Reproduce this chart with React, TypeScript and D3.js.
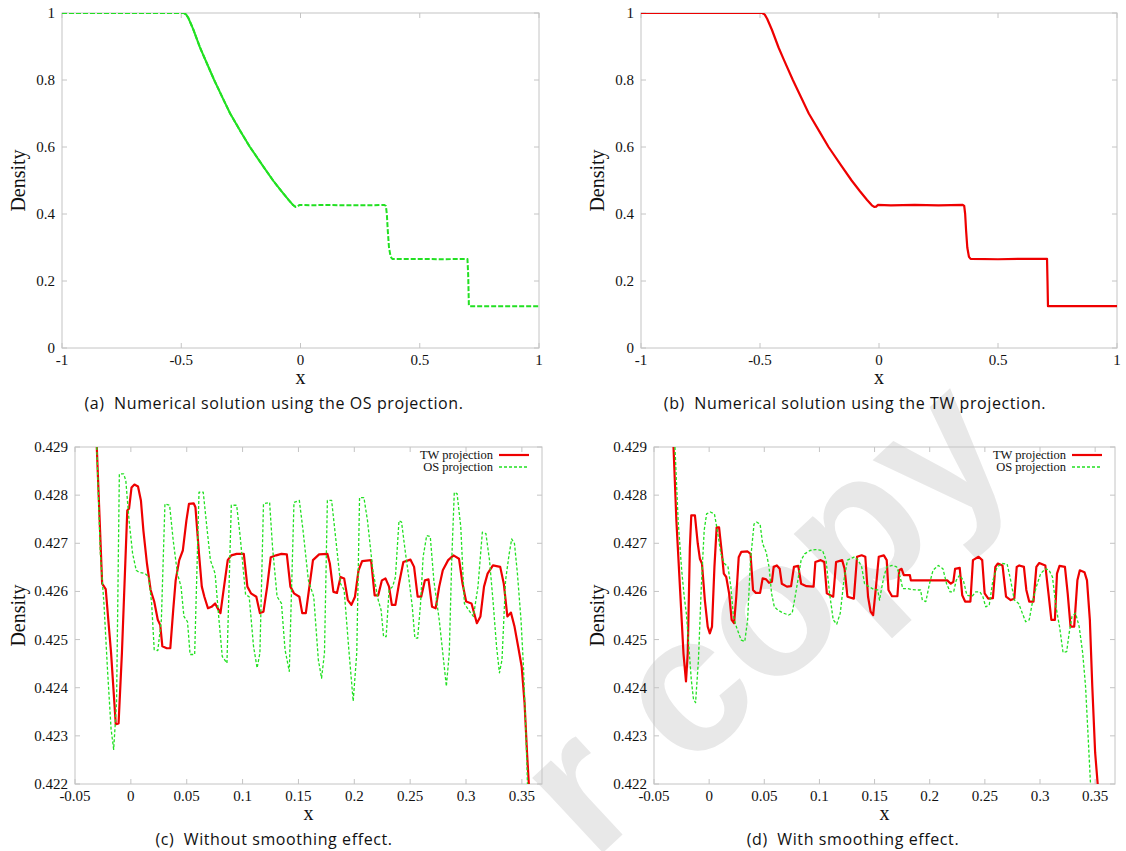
import React from 'react';
import * as d3 from 'd3';

type Pt = [number, number];

// tick values and labels
const xTicksFull = [-1, -0.5, 0, 0.5, 1];
const xLabelsFull = ['-1', '-0.5', '0', '0.5', '1'];
const yTicksFull = [0, 0.2, 0.4, 0.6, 0.8, 1];
const yLabelsFull = ['0', '0.2', '0.4', '0.6', '0.8', '1'];

const xTicksZoom = [-0.05, 0, 0.05, 0.1, 0.15, 0.2, 0.25, 0.3, 0.35];
const xLabelsZoom = ['-0.05', '0', '0.05', '0.1', '0.15', '0.2', '0.25', '0.3', '0.35'];
const yTicksZoom = [0.422, 0.423, 0.424, 0.425, 0.426, 0.427, 0.428, 0.429];
const yLabelsZoom = ['0.422', '0.423', '0.424', '0.425', '0.426', '0.427', '0.428', '0.429'];

// (a) OS projection, whole domain
const osFull: Pt[] = [
  [-1, 1], [-0.49, 1], [-0.48, 0.996], [-0.47, 0.985], [-0.45, 0.952], [-0.422, 0.898],
  [-0.4, 0.862], [-0.362, 0.8], [-0.33, 0.752], [-0.295, 0.7], [-0.25, 0.645], [-0.212, 0.6],
  [-0.16, 0.546], [-0.115, 0.5], [-0.08, 0.468], [-0.05, 0.442], [-0.03, 0.426], [-0.02, 0.421],
  [-0.012, 0.422], [-0.005, 0.427], [0.05, 0.426], [0.1, 0.427], [0.2, 0.426], [0.3, 0.426],
  [0.352, 0.427], [0.358, 0.424], [0.362, 0.4], [0.366, 0.35], [0.371, 0.3], [0.378, 0.272],
  [0.385, 0.266], [0.5, 0.266], [0.6, 0.265], [0.7, 0.266], [0.703, 0.22], [0.706, 0.126],
  [0.71, 0.125], [1, 0.125],
];

// (b) TW projection, whole domain
const twFull: Pt[] = [
  [-1, 1], [-0.49, 1], [-0.48, 0.995], [-0.47, 0.983], [-0.45, 0.95], [-0.422, 0.897],
  [-0.4, 0.861], [-0.362, 0.8], [-0.33, 0.752], [-0.295, 0.7], [-0.25, 0.646], [-0.212, 0.6],
  [-0.16, 0.546], [-0.115, 0.5], [-0.08, 0.468], [-0.05, 0.442], [-0.03, 0.426], [-0.02, 0.421],
  [-0.012, 0.422], [-0.005, 0.427], [0.05, 0.426], [0.15, 0.427], [0.25, 0.426], [0.352, 0.427],
  [0.358, 0.424], [0.362, 0.4], [0.366, 0.35], [0.371, 0.3], [0.378, 0.272], [0.385, 0.266],
  [0.5, 0.265], [0.6, 0.266], [0.706, 0.266], [0.708, 0.2], [0.71, 0.125], [1, 0.125],
];

// (c) without smoothing
const twRough: Pt[] = [
  [-0.0305, 0.429], [-0.0257, 0.42616], [-0.0225, 0.42605], [-0.0177, 0.42472], [-0.0135, 0.42324],
  [-0.011, 0.42326], [-0.008, 0.42472], [-0.0032, 0.42768], [-0.0016, 0.42772], [0.0006, 0.42816],
  [0.0032, 0.42822], [0.0064, 0.42818], [0.009, 0.42789], [0.0112, 0.42727], [0.0144, 0.42658],
  [0.0177, 0.42603], [0.0209, 0.42579], [0.0241, 0.42541], [0.0263, 0.4253], [0.0282, 0.42486],
  [0.0321, 0.42482], [0.0353, 0.42482], [0.0379, 0.42561], [0.0401, 0.42623], [0.0433, 0.42665],
  [0.0465, 0.42685], [0.0497, 0.42747], [0.052, 0.42782], [0.0562, 0.42783], [0.0578, 0.42775],
  [0.061, 0.42678], [0.0635, 0.4261], [0.0658, 0.42589], [0.069, 0.42565], [0.0722, 0.42568],
  [0.0754, 0.42575], [0.077, 0.42568], [0.0802, 0.42555], [0.0834, 0.4261], [0.0867, 0.42665],
  [0.0899, 0.42675], [0.0947, 0.42678], [0.1011, 0.42678], [0.1043, 0.4261], [0.1075, 0.42596],
  [0.1123, 0.42589], [0.1155, 0.42555], [0.1187, 0.42558], [0.122, 0.4261], [0.1252, 0.42671],
  [0.13, 0.42675], [0.1348, 0.42678], [0.1396, 0.42677], [0.1428, 0.4261], [0.146, 0.42596],
  [0.1508, 0.42589], [0.1534, 0.42555], [0.1566, 0.42555], [0.1598, 0.4261], [0.163, 0.42665],
  [0.1685, 0.42677], [0.1759, 0.42678], [0.1781, 0.42658], [0.1813, 0.42599], [0.1845, 0.42597],
  [0.1877, 0.4263], [0.1909, 0.42627], [0.1942, 0.42582], [0.1974, 0.42572], [0.2006, 0.42589],
  [0.2038, 0.42644], [0.207, 0.42663], [0.215, 0.42665], [0.2182, 0.42592], [0.2214, 0.42592],
  [0.2247, 0.42623], [0.2279, 0.42627], [0.2311, 0.4261], [0.2336, 0.42572], [0.2368, 0.42572],
  [0.24, 0.42616], [0.2439, 0.42661], [0.2503, 0.42666], [0.2535, 0.42651], [0.2567, 0.42589],
  [0.2599, 0.42589], [0.2632, 0.42623], [0.2664, 0.42625], [0.2696, 0.42568], [0.2728, 0.42565],
  [0.276, 0.4261], [0.2792, 0.42644], [0.284, 0.42665], [0.2888, 0.42675], [0.2937, 0.42668],
  [0.2969, 0.42616], [0.3001, 0.42579], [0.3049, 0.42575], [0.3097, 0.42534], [0.3129, 0.42548],
  [0.3161, 0.4261], [0.3193, 0.42637], [0.3241, 0.42654], [0.3306, 0.42651], [0.3338, 0.42616],
  [0.337, 0.42548], [0.3402, 0.42556], [0.3434, 0.42527], [0.3466, 0.42486], [0.3498, 0.42444],
  [0.3524, 0.42368], [0.3546, 0.42265], [0.3562, 0.422],
];

const osRough: Pt[] = [
  [-0.0305, 0.429], [-0.0273, 0.42678], [-0.0241, 0.42575], [-0.0209, 0.42437], [-0.0177, 0.42314],
  [-0.0154, 0.42272], [-0.0128, 0.42369], [-0.0103, 0.42844], [-0.0064, 0.42844], [-0.0045, 0.4283],
  [-0.0016, 0.42747], [0.0016, 0.42678], [0.0048, 0.42644], [0.0071, 0.4264], [0.0128, 0.42637],
  [0.016, 0.4263], [0.0186, 0.42575], [0.0209, 0.42479], [0.0241, 0.42477], [0.0273, 0.42541],
  [0.0305, 0.42782], [0.0347, 0.42779], [0.0379, 0.42706], [0.0417, 0.42637], [0.0449, 0.4261],
  [0.0475, 0.42548], [0.0507, 0.42537], [0.053, 0.42469], [0.0571, 0.42469], [0.061, 0.42806],
  [0.0648, 0.42806], [0.068, 0.42734], [0.0712, 0.42665], [0.0754, 0.42637], [0.0786, 0.42548],
  [0.0818, 0.42465], [0.086, 0.42451], [0.0899, 0.42779], [0.0947, 0.42779], [0.0979, 0.42713],
  [0.1027, 0.42593], [0.1059, 0.42589], [0.1098, 0.42486], [0.113, 0.42441], [0.1155, 0.42472],
  [0.1187, 0.42782], [0.1242, 0.42785], [0.1268, 0.42692], [0.1309, 0.42589], [0.1348, 0.42575],
  [0.138, 0.42479], [0.1418, 0.42434], [0.146, 0.42785], [0.1508, 0.42789], [0.1541, 0.42727],
  [0.1589, 0.42623], [0.1637, 0.42589], [0.1678, 0.42458], [0.1707, 0.4242], [0.1733, 0.42472],
  [0.1759, 0.42789], [0.1797, 0.42789], [0.1829, 0.4272], [0.1877, 0.42616], [0.1909, 0.42603],
  [0.1951, 0.42479], [0.199, 0.42372], [0.2022, 0.42472], [0.2047, 0.42795], [0.2086, 0.42795],
  [0.2118, 0.42747], [0.2166, 0.42644], [0.2214, 0.42582], [0.224, 0.42561], [0.2262, 0.42506],
  [0.2285, 0.42506], [0.2311, 0.42603], [0.2343, 0.4261], [0.2368, 0.4263], [0.24, 0.42747],
  [0.2423, 0.42744], [0.2455, 0.42685], [0.2487, 0.4263], [0.2519, 0.42568], [0.2542, 0.42503],
  [0.2567, 0.42503], [0.2593, 0.42575], [0.2616, 0.42672], [0.2648, 0.42716], [0.268, 0.42714],
  [0.2712, 0.42623], [0.276, 0.42541], [0.2792, 0.42472], [0.2824, 0.42403], [0.285, 0.42472],
  [0.2872, 0.42665], [0.2895, 0.42806], [0.292, 0.42803], [0.2953, 0.42734], [0.2985, 0.42575],
  [0.3024, 0.42561], [0.3066, 0.42548], [0.3107, 0.4261], [0.3146, 0.42723], [0.3178, 0.4272],
  [0.321, 0.42665], [0.3241, 0.42582], [0.3273, 0.42486], [0.3299, 0.42431], [0.3322, 0.42458],
  [0.3354, 0.42623], [0.3386, 0.42678], [0.3409, 0.42709], [0.3434, 0.42699], [0.346, 0.42637],
  [0.3492, 0.42541], [0.3514, 0.42444], [0.3537, 0.423], [0.355, 0.422],
];

// (d) with smoothing
const twSmooth: Pt[] = [
  [-0.0323, 0.429], [-0.0297, 0.42747], [-0.0265, 0.4261], [-0.0233, 0.42472], [-0.021, 0.42413],
  [-0.0194, 0.42472], [-0.0175, 0.4269], [-0.0162, 0.42758], [-0.0129, 0.42758], [-0.0103, 0.42699],
  [-0.0084, 0.42668], [-0.0065, 0.42658], [-0.0039, 0.42582], [-0.0013, 0.42527], [0.0006, 0.42513],
  [0.0026, 0.42527], [0.0048, 0.42651], [0.0068, 0.42733], [0.009, 0.42733], [0.0116, 0.42678],
  [0.0133, 0.42637], [0.0155, 0.4263], [0.0181, 0.42596], [0.0204, 0.42541], [0.0226, 0.42534],
  [0.0246, 0.42589], [0.0268, 0.42671], [0.0291, 0.42682], [0.0349, 0.42683], [0.0375, 0.42678],
  [0.0398, 0.42603], [0.0423, 0.42597], [0.0462, 0.42597], [0.0485, 0.42627], [0.0517, 0.42625],
  [0.0543, 0.42618], [0.0569, 0.4262], [0.0585, 0.42651], [0.0614, 0.42654], [0.064, 0.42647],
  [0.0659, 0.42616], [0.0705, 0.4261], [0.0743, 0.42611], [0.0769, 0.42651], [0.0808, 0.42653],
  [0.0834, 0.42616], [0.0882, 0.42611], [0.0947, 0.4261], [0.0963, 0.42661], [0.1012, 0.42665],
  [0.1044, 0.42661], [0.1067, 0.42596], [0.1125, 0.42589], [0.1151, 0.42661], [0.1206, 0.42665],
  [0.1228, 0.42647], [0.1254, 0.42589], [0.1312, 0.42585], [0.1341, 0.42672], [0.1383, 0.42675],
  [0.1416, 0.42672], [0.1441, 0.42589], [0.1464, 0.42558], [0.1487, 0.42551], [0.1513, 0.4261],
  [0.1538, 0.42672], [0.1584, 0.42675], [0.161, 0.42665], [0.1626, 0.42603], [0.1658, 0.4259],
  [0.1707, 0.4259], [0.1723, 0.42644], [0.1745, 0.42647], [0.1765, 0.42634], [0.182, 0.42634],
  [0.1829, 0.42623], [0.2159, 0.42623], [0.2191, 0.42616], [0.2214, 0.4262], [0.223, 0.42647],
  [0.2272, 0.42649], [0.2295, 0.42592], [0.2321, 0.42579], [0.2369, 0.42579], [0.2392, 0.42665],
  [0.2443, 0.42672], [0.2476, 0.42665], [0.2498, 0.42596], [0.2531, 0.42585], [0.2573, 0.42586],
  [0.2595, 0.42651], [0.2618, 0.42658], [0.266, 0.42654], [0.2692, 0.42589], [0.2734, 0.42582],
  [0.2767, 0.42585], [0.2789, 0.42651], [0.2812, 0.42654], [0.2854, 0.42651], [0.2876, 0.42603],
  [0.2902, 0.42579], [0.2941, 0.42579], [0.2967, 0.42651], [0.2993, 0.42659], [0.3048, 0.42654],
  [0.308, 0.42589], [0.3103, 0.42541], [0.3135, 0.42541], [0.3154, 0.42637], [0.3177, 0.42653],
  [0.3226, 0.42651], [0.3251, 0.42596], [0.3277, 0.42527], [0.331, 0.42527], [0.3339, 0.42623],
  [0.3361, 0.42644], [0.3403, 0.4264], [0.3426, 0.42623], [0.3452, 0.42541], [0.3474, 0.42403],
  [0.35, 0.42265], [0.3523, 0.422],
];

const osSmooth: Pt[] = [
  [-0.031, 0.429], [-0.0281, 0.42747], [-0.0249, 0.42644], [-0.0226, 0.42589], [-0.0207, 0.42555],
  [-0.0184, 0.42486], [-0.0162, 0.42417], [-0.0142, 0.42376], [-0.0123, 0.42369], [-0.0097, 0.42458],
  [-0.0071, 0.4261], [-0.0045, 0.42727], [-0.0023, 0.42761], [0.001, 0.42765], [0.0048, 0.42761],
  [0.0074, 0.42727], [0.0107, 0.42678], [0.0139, 0.42658], [0.0171, 0.42651], [0.0197, 0.4261],
  [0.022, 0.42548], [0.0246, 0.42527], [0.0268, 0.42513], [0.0291, 0.42499], [0.0323, 0.42496],
  [0.0349, 0.42541], [0.0375, 0.42665], [0.0407, 0.4274], [0.043, 0.42744], [0.0462, 0.4274],
  [0.0485, 0.42699], [0.0517, 0.42682], [0.0543, 0.42651], [0.0566, 0.42596], [0.0591, 0.42568],
  [0.0624, 0.42561], [0.0672, 0.42555], [0.0721, 0.42551], [0.0753, 0.42555], [0.0785, 0.42596],
  [0.0834, 0.42665], [0.0866, 0.42678], [0.0915, 0.42685], [0.0963, 0.42687], [0.1028, 0.42685],
  [0.106, 0.42665], [0.1092, 0.42596], [0.1125, 0.42541], [0.1157, 0.42532], [0.1189, 0.42555],
  [0.1222, 0.42623], [0.1254, 0.42665], [0.1319, 0.42672], [0.1351, 0.42665], [0.1383, 0.42651],
  [0.1409, 0.42616], [0.1448, 0.4261], [0.1496, 0.42604], [0.1529, 0.42603], [0.1545, 0.42582],
  [0.1561, 0.42603], [0.1584, 0.4263], [0.161, 0.42651], [0.1658, 0.42654], [0.17, 0.42651],
  [0.1732, 0.4263], [0.1755, 0.42606], [0.1803, 0.42606], [0.1836, 0.42604], [0.1884, 0.42603],
  [0.1917, 0.42603], [0.1933, 0.42582], [0.1965, 0.42579], [0.1998, 0.42616], [0.203, 0.42644],
  [0.2078, 0.42654], [0.212, 0.42647], [0.2153, 0.42616], [0.2185, 0.42599], [0.2217, 0.42599],
  [0.224, 0.42623], [0.2272, 0.42634], [0.2305, 0.42623], [0.2337, 0.42592], [0.2385, 0.4259],
  [0.2417, 0.42599], [0.2456, 0.42599], [0.2482, 0.42589], [0.2508, 0.42568], [0.254, 0.42572],
  [0.2573, 0.42623], [0.2611, 0.42651], [0.266, 0.42658], [0.2702, 0.42657], [0.2734, 0.42623],
  [0.2767, 0.42582], [0.2806, 0.42575], [0.2838, 0.42556], [0.287, 0.42537], [0.2902, 0.42541],
  [0.2935, 0.42582], [0.2967, 0.4261], [0.3006, 0.42637], [0.3048, 0.42647], [0.308, 0.42645],
  [0.3113, 0.4263], [0.3145, 0.42568], [0.3177, 0.42527], [0.3209, 0.42473], [0.3242, 0.42475],
  [0.3264, 0.42513], [0.329, 0.42548], [0.3322, 0.42555], [0.3355, 0.42527], [0.3387, 0.42472],
  [0.3413, 0.42403], [0.3436, 0.423], [0.3458, 0.422],
];

const RED = '#ee0000';
const GREEN = '#22e022';
const FRAME = '#c4c4c4';
const SERIF = "'Liberation Serif', 'DejaVu Serif', serif";
const SANS = "'Open Sans', 'DejaVu Sans', sans-serif";

type Series = {
  data: Pt[];
  color: string;
  width: number;
  dash?: string;
  solidRange?: [number, number];
  label?: string;
};

type PanelProps = {
  id: string;
  left: number;
  right: number;
  top: number;
  bottom: number;
  xDomain: [number, number];
  yDomain: [number, number];
  xTicks: number[];
  xLabels: string[];
  yTicks: number[];
  yLabels: string[];
  series: Series[];
  caption: string;
  captionX: number;
  ylabX: number;
  legend?: boolean;
};

const Panel: React.FC<PanelProps> = (p) => {
  const x = d3.scaleLinear().domain(p.xDomain).range([p.left, p.right]);
  const y = d3.scaleLinear().domain(p.yDomain).range([p.bottom, p.top]);
  const line = d3
    .line<Pt>()
    .x((d) => x(d[0]))
    .y((d) => y(d[1]));
  const tl = 5;
  const cx = (p.left + p.right) / 2;
  const cy = (p.top + p.bottom) / 2;
  return (
    <g>
      <defs>
        <clipPath id={`clip-${p.id}`}>
          <rect x={p.left} y={p.top} width={p.right - p.left} height={p.bottom - p.top} />
        </clipPath>
      </defs>
      <rect
        x={p.left}
        y={p.top}
        width={p.right - p.left}
        height={p.bottom - p.top}
        fill="none"
        stroke={FRAME}
        strokeWidth={1}
      />
      {p.xTicks.map((t, i) => (
        <g key={`xt${i}`}>
          <line x1={x(t)} x2={x(t)} y1={p.bottom} y2={p.bottom - tl} stroke={FRAME} />
          <line x1={x(t)} x2={x(t)} y1={p.top} y2={p.top + tl} stroke={FRAME} />
          <text
            x={x(t)}
            y={p.bottom + 17}
            textAnchor="middle"
            fontFamily={SERIF}
            fontSize={15}
            fill="#111"
          >
            {p.xLabels[i]}
          </text>
        </g>
      ))}
      {p.yTicks.map((t, i) => (
        <g key={`yt${i}`}>
          <line x1={p.left} x2={p.left + tl} y1={y(t)} y2={y(t)} stroke={FRAME} />
          <line x1={p.right} x2={p.right - tl} y1={y(t)} y2={y(t)} stroke={FRAME} />
          <text
            x={p.left - 7}
            y={y(t) + 5}
            textAnchor="end"
            fontFamily={SERIF}
            fontSize={15}
            fill="#111"
          >
            {p.yLabels[i]}
          </text>
        </g>
      ))}
      <g clipPath={`url(#clip-${p.id})`}>
        {p.series.map((s, i) => (
          <g key={`s${i}`}>
            <path
              d={line(s.data) || ''}
              fill="none"
              stroke={s.color}
              strokeWidth={s.width}
              strokeDasharray={s.dash}
              strokeLinejoin="round"
            />
            {s.solidRange && (
              <path
                d={line(s.data.filter((d) => d[0] >= s.solidRange![0] && d[0] <= s.solidRange![1])) || ''}
                fill="none"
                stroke={s.color}
                strokeWidth={s.width}
                strokeLinejoin="round"
              />
            )}
          </g>
        ))}
      </g>
      {p.legend &&
        p.series.map((s, i) => (
          <g key={`lg${i}`}>
            <text
              x={p.right - 49}
              y={p.top + 8 + i * 12 + 4}
              textAnchor="end"
              fontFamily={SERIF}
              fontSize={12.5}
              fill="#111"
            >
              {s.label}
            </text>
            <line
              x1={p.right - 43}
              x2={p.right - 13}
              y1={p.top + 8 + i * 12}
              y2={p.top + 8 + i * 12}
              stroke={s.color}
              strokeWidth={s.width}
              strokeDasharray={s.dash}
            />
          </g>
        ))}
      <text
        transform={`translate(${p.ylabX},${cy}) rotate(-90)`}
        textAnchor="middle"
        dominantBaseline="middle"
        fontFamily={SERIF}
        fontSize={20}
        fill="#111"
      >
        Density
      </text>
      <text x={cx} y={p.bottom + 36} textAnchor="middle" fontFamily={SERIF} fontSize={20} fill="#111">
        x
      </text>
      <text
        x={p.captionX}
        y={p.bottom + 61}
        textAnchor="middle"
        fontFamily={SANS}
        fontSize={16}
        letterSpacing={0.6}
        fill="#111"
        style={{ whiteSpace: 'pre' }}
      >
        {p.caption}
      </text>
    </g>
  );
};

export default function App() {
  const zoomDomain: [number, number] = [-0.05, 0.368];
  const zoomY: [number, number] = [0.422, 0.429];
  return (
    <svg
      width={1126}
      height={851}
      style={{ position: 'absolute', left: 0, top: 0, background: '#fff' }}
    >
      <rect x={0} y={0} width={1126} height={851} fill="#fff" />
      <text
        transform="translate(593,862) rotate(-43)"
        fontFamily="'Liberation Sans', Arial, sans-serif"
        fontWeight="bold"
        fontSize={195}
        fill="#e8e8e8"
        style={{ whiteSpace: 'pre' }}
      >
        r copy
      </text>
      <Panel
        id="a"
        left={62}
        right={539}
        top={13}
        bottom={348}
        xDomain={[-1, 1]}
        yDomain={[0, 1]}
        xTicks={xTicksFull}
        xLabels={xLabelsFull}
        yTicks={yTicksFull}
        yLabels={yLabelsFull}
        series={[{ data: osFull, color: GREEN, width: 2, dash: '5,2', solidRange: [-0.49, -0.02] }]}
        caption="(a)  Numerical solution using the OS projection."
        captionX={274}
        ylabX={20}
      />
      <Panel
        id="b"
        left={641}
        right={1117}
        top={13}
        bottom={348}
        xDomain={[-1, 1]}
        yDomain={[0, 1]}
        xTicks={xTicksFull}
        xLabels={xLabelsFull}
        yTicks={yTicksFull}
        yLabels={yLabelsFull}
        series={[{ data: twFull, color: RED, width: 2.2 }]}
        caption="(b)  Numerical solution using the TW projection."
        captionX={855}
        ylabX={599}
      />
      <Panel
        id="c"
        left={75}
        right={542}
        top={447}
        bottom={784}
        xDomain={zoomDomain}
        yDomain={zoomY}
        xTicks={xTicksZoom}
        xLabels={xLabelsZoom}
        yTicks={yTicksZoom}
        yLabels={yLabelsZoom}
        series={[
          { data: twRough, color: RED, width: 2.2, label: 'TW projection' },
          { data: osRough, color: GREEN, width: 1.3, dash: '3,2', label: 'OS projection' },
        ]}
        caption="(c)  Without smoothing effect."
        captionX={274}
        ylabX={20}
        legend
      />
      <Panel
        id="d"
        left={654}
        right={1115}
        top={447}
        bottom={784}
        xDomain={zoomDomain}
        yDomain={zoomY}
        xTicks={xTicksZoom}
        xLabels={xLabelsZoom}
        yTicks={yTicksZoom}
        yLabels={yLabelsZoom}
        series={[
          { data: twSmooth, color: RED, width: 2.2, label: 'TW projection' },
          { data: osSmooth, color: GREEN, width: 1.3, dash: '3,2', label: 'OS projection' },
        ]}
        caption="(d)  With smoothing effect."
        captionX={853}
        ylabX={599}
        legend
      />
    </svg>
  );
}
